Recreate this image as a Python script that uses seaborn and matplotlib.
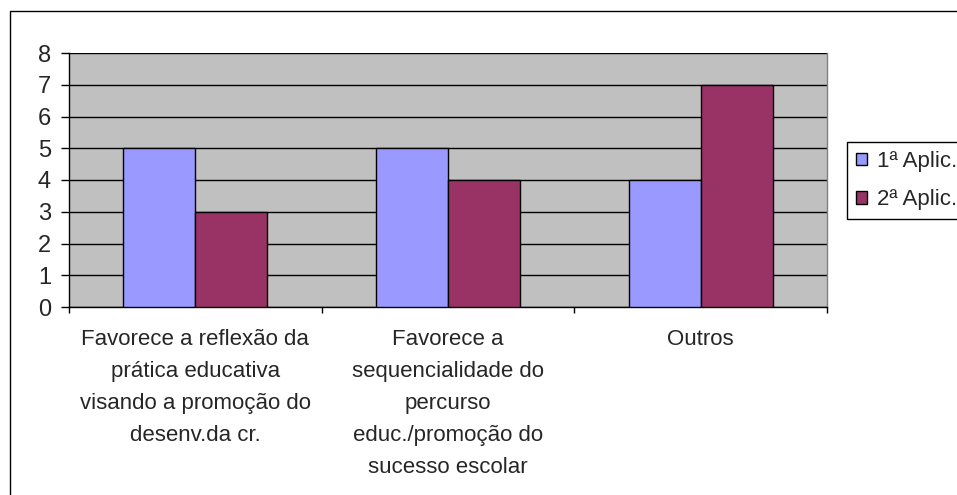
import numpy as np
import pandas as pd
import seaborn as sns
import matplotlib
matplotlib.use('Agg')
import matplotlib.pyplot as plt
from matplotlib.patches import Patch, Rectangle

## data
categories = ['Favorece a reflexão da\nprática educativa\nvisando a promoção do\ndesenv.da cr.',
              'Favorece a\nsequencialidade do\npercurso\neduc./promoção do\nsucesso escolar',
              'Outros']
series_names = ['1ª Aplic.', '2ª Aplic.']
aplic1 = [5, 5, 4]
aplic2 = [3, 4, 7]
colors = ['#9999FF', '#993366']
y_ticks = [0, 1, 2, 3, 4, 5, 6, 7, 8]

df = pd.DataFrame({
    'cat': categories * 2,
    'serie': [series_names[0]] * 3 + [series_names[1]] * 3,
    'valor': aplic1 + aplic2,
})

sns.set_theme(style='white')
plt.rcParams['font.family'] = ['Liberation Sans', 'DejaVu Sans']

fig = plt.figure(figsize=(9.57, 4.95), dpi=100)
ax = fig.add_axes([69/957, 1-307/495, (827-69)/957, (307-53)/495])
ax.set_facecolor('#C0C0C0')

sns.barplot(data=df, x='cat', y='valor', hue='serie', palette=colors,
            saturation=1, width=0.57, gap=0, edgecolor='black', linewidth=1,
            legend=False, ax=ax, zorder=3)

ax.set_ylim(0, 8)
ax.set_xlim(-0.5, 2.5)
ax.set_yticks(y_ticks)
ax.yaxis.grid(True, color='black', linewidth=1, zorder=0)
ax.set_axisbelow(True)
ax.tick_params(axis='y', direction='out', length=6, width=1, color='black',
               labelsize=17, pad=7, left=True)
ax.set_xticks(range(len(categories)))
ax.set_xticklabels(categories, fontsize=16, linespacing=1.68, va='top')
ax.tick_params(axis='x', length=0, pad=16)
ax.set_xticks([-0.5, 0.5, 1.5, 2.5], minor=True)
ax.tick_params(axis='x', which='minor', direction='out', length=4, width=1,
               color='black', bottom=True)
ax.set_xlabel('')
ax.set_ylabel('')
for s in ['left', 'bottom']:
    ax.spines[s].set_color('black')
    ax.spines[s].set_linewidth(1)
ax.spines['top'].set_visible(False)
ax.spines['right'].set_color('#808080')
ax.spines['right'].set_linewidth(1)

handles = [Patch(facecolor=c, edgecolor='black', linewidth=1) for c in colors]
fig.legend(handles, series_names, loc='upper left',
           bbox_to_anchor=(847/957, 1-142/495), fontsize=16,
           frameon=True, fancybox=False, edgecolor='black', framealpha=1,
           handlelength=0.5, handleheight=0.5, handletextpad=0.45,
           labelspacing=0.78, borderpad=0.4, borderaxespad=0)

## outer chart border, runs off the right and bottom of the picture
fig.add_artist(Rectangle((10/957, -0.05), 1.1, 1-11/495+0.05,
                         transform=fig.transFigure, fill=False,
                         edgecolor='black', linewidth=1))

plt.savefig('out.png', dpi=100)
